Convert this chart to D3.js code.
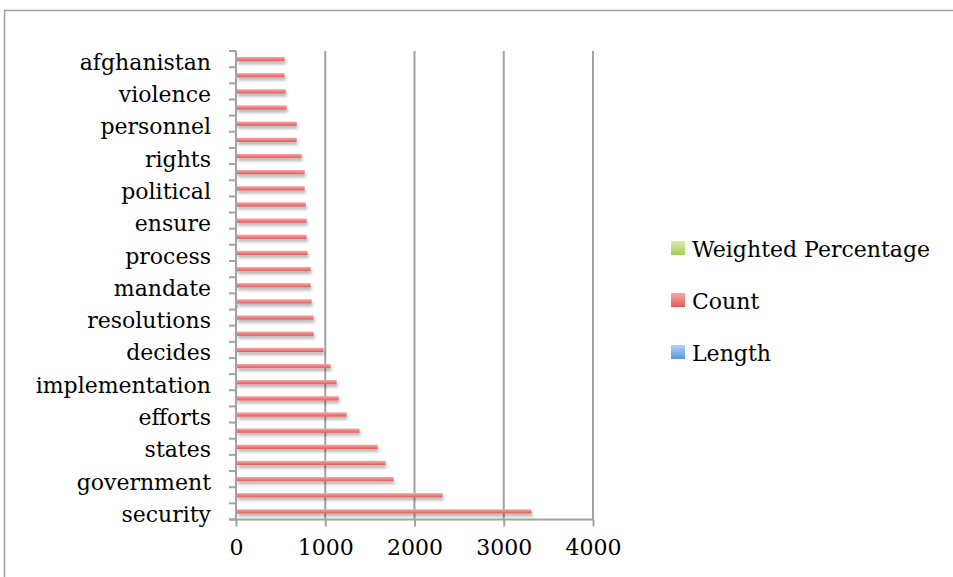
<!DOCTYPE html>
<html>
<head>
<meta charset="utf-8">
<script src="https://cdn.jsdelivr.net/npm/d3@7"></script>
<style>
  html, body { margin: 0; padding: 0; background: #fff; }
  svg { display: block; }
  text { font-family: "DejaVu Serif", serif; fill: #000; }
</style>
</head>
<body>
<svg id="chart" width="953" height="577"></svg>
<script>
// categories listed top to bottom
const categories = [
  "afghanistan", "humanitarian", "violence", "peace", "personnel", "report",
  "rights", "parties", "political", "calls", "ensure", "support",
  "process", "stability", "mandate", "secretary-general", "resolutions", "including",
  "decides", "mission", "implementation", "international", "efforts", "nations",
  "states", "united", "government", "council", "security"
];
const countValues = [
  545, 545, 557, 568, 680, 680,
  736, 769, 769, 783, 792, 792,
  803, 837, 837, 848, 870, 870,
  982, 1060, 1128, 1150, 1240, 1385,
  1587, 1676, 1766, 2315, 3311
];
const lengthValues = [
  11, 12, 8, 5, 9, 6,
  6, 7, 9, 5, 6, 7,
  7, 9, 7, 17, 11, 9,
  7, 7, 14, 13, 7, 7,
  6, 6, 10, 7, 8
];
const weightedValues = [
  1.2, 1.3, 0.9, 0.6, 1.2, 0.8,
  0.9, 1.0, 1.3, 0.8, 0.9, 1.1,
  1.1, 1.4, 1.1, 2.7, 1.8, 1.5,
  1.3, 1.4, 2.9, 2.8, 1.6, 1.8,
  1.8, 1.9, 3.3, 3.0, 4.8
];
const seriesNames = ["Weighted Percentage", "Count", "Length"];
const xTicks = [0, 1000, 2000, 3000, 4000];

const svg = d3.select("#chart");
const defs = svg.append("defs");

const palettes = {
  "Weighted Percentage": ["#d9ecae", "#a9cc5c"],
  "Count": ["#f8a9a7", "#e05b59"],
  "Length": ["#b2d2f6", "#5a95d8"]
};
seriesNames.forEach((s, i) => {
  const g = defs.append("linearGradient").attr("id", "grad" + i)
    .attr("x1", 0).attr("y1", 0).attr("x2", 0).attr("y2", 1);
  g.append("stop").attr("offset", "0%").attr("stop-color", palettes[s][0]);
  g.append("stop").attr("offset", "100%").attr("stop-color", palettes[s][1]);
});
const f = defs.append("filter").attr("id", "shadow")
  .attr("x", "-5%").attr("y", "-100%").attr("width", "110%").attr("height", "400%");
f.append("feDropShadow").attr("dx", 1).attr("dy", 3).attr("stdDeviation", 1.6)
  .attr("flood-color", "#000").attr("flood-opacity", 0.28);

// outer frame
svg.append("rect").attr("x", 4.5).attr("y", 10.5).attr("width", 960).attr("height", 580)
  .attr("fill", "none").attr("stroke", "#a0a0a0").attr("stroke-width", 1.5);

const plot = { left: 236, right: 593, top: 51, bottom: 519.5 };

const x = d3.scaleLinear().domain([0, 4000]).range([plot.left, plot.right]);
const y = d3.scaleBand().domain(categories).range([plot.top, plot.bottom])
  .paddingInner(0.2).paddingOuter(0.1);
const ySub = d3.scaleBand().domain(seriesNames).range([0, y.bandwidth()]);

// gridlines
svg.append("g").selectAll("line").data(xTicks.slice(1)).join("line")
  .attr("x1", d => x(d)).attr("x2", d => x(d))
  .attr("y1", plot.top).attr("y2", plot.bottom)
  .attr("stroke", "#a3a3a3").attr("stroke-width", 2);

// bars
const seriesData = {
  "Weighted Percentage": weightedValues,
  "Count": countValues,
  "Length": lengthValues
};
seriesNames.forEach((s, si) => {
  svg.append("g").attr("filter", "url(#shadow)")
    .selectAll("rect").data(categories).join("rect")
    .attr("x", x(0) + 1)
    .attr("y", (d) => y(d) + ySub(s))
    .attr("width", (d, i) => Math.max(0, x(seriesData[s][i]) - x(0) - 1))
    .attr("height", ySub.bandwidth())
    .attr("fill", "url(#grad" + si + ")");
});

// x axis
const xAxis = svg.append("g").attr("transform", `translate(0,${plot.bottom})`)
  .call(d3.axisBottom(x).tickValues(xTicks).tickSize(7).tickPadding(13).tickFormat(d3.format("d")));
xAxis.select(".domain").attr("stroke", "#a3a3a3").attr("stroke-width", 2)
  .attr("d", `M${plot.left - 7},0H${plot.right}`);
xAxis.selectAll(".tick line").attr("stroke", "#a3a3a3").attr("stroke-width", 2);
xAxis.selectAll("text").style("font-family", "DejaVu Serif, serif").style("font-size", "22px").attr("fill", "#000");

// y axis line
svg.append("line").attr("x1", plot.left).attr("x2", plot.left)
  .attr("y1", plot.top).attr("y2", plot.bottom)
  .attr("stroke", "#a3a3a3").attr("stroke-width", 2);

// category boundary ticks
const boundaries = d3.range(categories.length + 1).map(i => plot.top + i * y.step() - (i === 0 ? 0 : 0));
svg.append("g").selectAll("line").data(boundaries).join("line")
  .attr("x1", plot.left - 7).attr("x2", plot.left)
  .attr("y1", d => d).attr("y2", d => d)
  .attr("stroke", "#a3a3a3").attr("stroke-width", 2);

// y labels (every other category)
const shown = categories.filter((d, i) => i % 2 === 0);
const yAxis = svg.append("g").attr("transform", `translate(${plot.left},0)`)
  .call(d3.axisLeft(y).tickValues(shown).tickSize(0).tickPadding(25));
yAxis.select(".domain").remove();
yAxis.selectAll("text").style("font-family", "DejaVu Serif, serif").style("font-size", "22px")
  .attr("fill", "#000").attr("dy", "0.48em");

// legend
const legend = svg.append("g");
const legendItems = legend.selectAll("g").data(seriesNames).join("g")
  .attr("transform", (d, i) => `translate(671,${241 + i * 52})`);
legendItems.append("rect").attr("width", 14).attr("height", 14)
  .attr("fill", (d, i) => "url(#grad" + i + ")");
legendItems.append("text").attr("x", 21).attr("y", 16)
  .style("font-size", "22px").text(d => d);
</script>
</body>
</html>
